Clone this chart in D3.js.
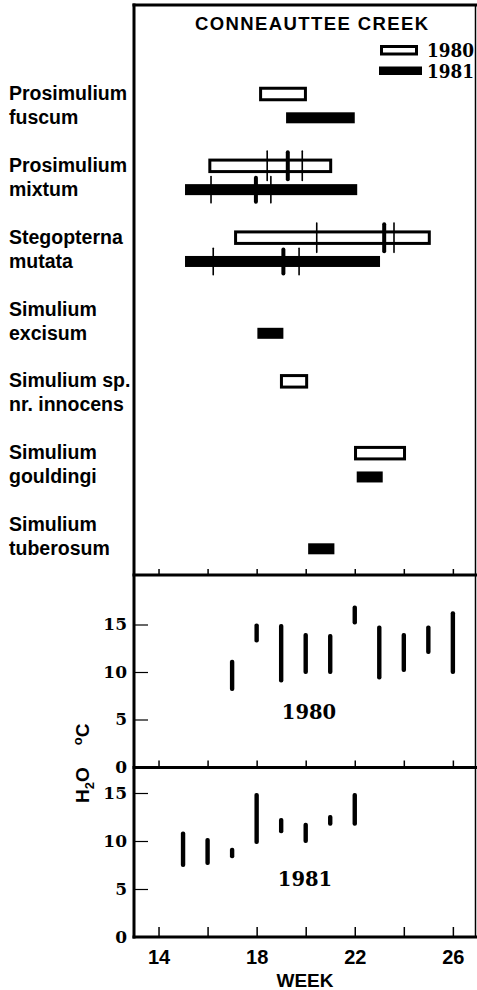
<!DOCTYPE html>
<html><head><meta charset="utf-8">
<script src="https://cdn.jsdelivr.net/npm/d3@7"></script>
<style>body{margin:0;background:#fff}svg{display:block}</style>
</head><body><svg id="c" width="477" height="990"></svg>
<script>
// ---------- data ----------
const speciesLine1 = ["Prosimulium","Prosimulium","Stegopterna","Simulium","Simulium sp.","Simulium","Simulium"];
const speciesLine2 = ["fuscum","mixtum","mutata","excisum","nr. innocens","gouldingi","tuberosum"];
// emergence periods (week start, week end); null = not collected
const start1980 = [18.1, 16.03, 17.08, null, 18.95, 21.97, null];
const end1980   = [20.05, 21.08, 25.1, null, 20.1, 24.09, null];
const start1981 = [19.2, 15.08, 15.08, 18.03, null, 22.08, 20.1];
const end1981   = [22.0, 22.1, 23.03, 19.09, null, 23.14, 21.17];
// vertical marks on bars: [species index, week]
const thinMarks1980  = [[1,18.43],[1,19.86],[2,20.45],[2,23.6]];
const thickMarks1980 = [[1,19.27],[2,23.2]];
const thinMarks1981  = [[1,16.14],[1,18.58],[2,16.23],[2,19.73]];
const thickMarks1981 = [[1,17.97],[2,19.09]];
// water temperature ranges
const weeks1980 = [17,18,19,20,21,22,23,24,25,26];
const low1980   = [8.0,13.1,8.9,9.8,9.8,15.0,9.2,10.0,11.9,9.8];
const high1980  = [11.3,15.1,15.05,14.1,14.0,17.0,14.9,14.1,14.9,16.4];
const weeks1981 = [15,16,17,18,19,20,21,22];
const low1981   = [7.3,7.5,8.2,9.7,10.8,9.8,11.6,11.6];
const high1981  = [11.0,10.3,9.3,15.0,12.4,11.9,12.7,15.0];
const weekTicks = [14,16,18,20,22,24,26];
const weekLabels = [14,18,22,26];
const tempTicks = [5,10,15];
const tempLabels = [0,5,10,15];

// ---------- layout ----------
const svg = d3.select("#c");
const L = 134, R = 475.5, T = 5, B1 = 575, B2 = 767.5, B3 = 937;
const x = d3.scaleLinear().domain([13,27]).range([134,477.4]);
const row = d3.scalePoint().domain(d3.range(speciesLine1.length)).range([94,525]);
const off81 = 23.8;
const y80 = d3.scaleLinear().domain([0,15]).range([767,624.5]);
const y81 = d3.scaleLinear().domain([0,15]).range([937,793]);

const sans = "'Liberation Sans', Arial, sans-serif";
const serif = "'DejaVu Serif', serif";

// title
svg.append("text").attr("x",195).attr("y",29.5)
  .attr("textLength",233).attr("lengthAdjust","spacing")
  .style("font-family",sans).style("font-weight","bold").style("font-size","18.5px")
  .text("CONNEAUTTEE CREEK");

// legend
svg.append("rect").attr("x",381.5).attr("y",46.5).attr("width",35).attr("height",7.5)
  .attr("fill","#fff").attr("stroke","#000").attr("stroke-width",3);
svg.append("rect").attr("x",379).attr("y",66.5).attr("width",43).attr("height",8.5).attr("fill","#000");
svg.append("text").attr("x",427).attr("y",57).attr("textLength",47).attr("lengthAdjust","spacingAndGlyphs")
  .style("font-family",serif).style("font-weight","bold").style("font-size","18px").text("1980");
svg.append("text").attr("x",427).attr("y",78).attr("textLength",47).attr("lengthAdjust","spacingAndGlyphs")
  .style("font-family",serif).style("font-weight","bold").style("font-size","18px").text("1981");

// species labels
const lab = svg.append("g").style("font-family",sans).style("font-weight","bold").style("font-size","19.5px");
speciesLine1.forEach((s,i)=>{
  lab.append("text").attr("x",9).attr("y",row(i)+6).text(s);
  lab.append("text").attr("x",9).attr("y",row(i)+30).text(speciesLine2[i]);
});

// bars 1980 (open)
const idx = d3.range(speciesLine1.length);
svg.append("g").selectAll("rect").data(idx.filter(i=>start1980[i]!==null)).join("rect")
  .attr("x",i=>x(start1980[i])+1.5).attr("width",i=>x(end1980[i])-x(start1980[i])-3)
  .attr("y",i=>row(i)-5.75).attr("height",11.5)
  .attr("fill","#fff").attr("stroke","#000").attr("stroke-width",3);
// bars 1981 (filled)
svg.append("g").selectAll("rect").data(idx.filter(i=>start1981[i]!==null)).join("rect")
  .attr("x",i=>x(start1981[i])).attr("width",i=>x(end1981[i])-x(start1981[i]))
  .attr("y",i=>row(i)+off81-5.5).attr("height",11)
  .attr("fill","#000");

// marks
function marks(data, dy, w, half){
  svg.append("g").selectAll("rect").data(data).join("rect")
    .attr("x",d=>x(d[1])-w/2).attr("width",w)
    .attr("y",d=>row(d[0])+dy-half).attr("height",2*half)
    .attr("rx",w/2).attr("fill","#000");
}
marks(thinMarks1980,0,1.6,15.5);
marks(thickMarks1980,0,4,15.5);
marks(thinMarks1981,off81,1.6,14);
marks(thickMarks1981,off81,4,14);

// temperature bars
function temps(weeks, lo, hi, y){
  svg.append("g").selectAll("rect").data(weeks.map((w,i)=>i)).join("rect")
    .attr("x",i=>x(weeks[i])-2.2).attr("width",4.4)
    .attr("y",i=>y(hi[i])).attr("height",i=>y(lo[i])-y(hi[i]))
    .attr("rx",2).attr("fill","#000");
}
temps(weeks1980,low1980,high1980,y80);
temps(weeks1981,low1981,high1981,y81);

svg.append("text").attr("x",309).attr("y",719).attr("text-anchor","middle")
  .style("font-family",serif).style("font-weight","bold").style("font-size","19.5px").text("1980");
svg.append("text").attr("x",305).attr("y",886).attr("text-anchor","middle")
  .style("font-family",serif).style("font-weight","bold").style("font-size","19.5px").text("1981");

// x tick marks (inward, pointing up) for each panel
function xticks(yb, len){
  const g = svg.append("g").attr("transform",`translate(0,${yb})`)
    .call(d3.axisTop(x).tickValues(weekTicks).tickSize(len).tickFormat(""));
  g.select(".domain").remove();
  g.selectAll("line").attr("stroke","#000").attr("stroke-width",1.5);
}
xticks(B1-1,5);
xticks(B2-1,6);
xticks(B3-1,9);

// x labels
const xl = svg.append("g").attr("transform",`translate(0,${B3})`)
  .call(d3.axisBottom(x).tickValues(weekLabels).tickSize(0).tickPadding(13).tickFormat(d3.format("d")));
xl.select(".domain").remove();
xl.selectAll("text").style("font-family",sans).style("font-weight","bold").style("font-size","20px").attr("fill","#000");
svg.append("text").attr("x",305).attr("y",987).attr("text-anchor","middle")
  .style("font-family",sans).style("font-weight","bold").style("font-size","19px").text("WEEK");

// y axes
function yaxis(y){
  const g = svg.append("g").attr("transform",`translate(${L},0)`)
    .call(d3.axisRight(y).tickValues(tempTicks).tickSize(14).tickFormat(""));
  g.select(".domain").remove();
  g.selectAll("line").attr("stroke","#000").attr("stroke-width",1.2);
  const gl = svg.append("g").attr("transform",`translate(${L},0)`)
    .call(d3.axisLeft(y).tickValues(tempLabels).tickSize(0).tickPadding(7).tickFormat(d3.format("d")));
  gl.select(".domain").remove();
  gl.selectAll("text").style("font-family",serif).style("font-weight","bold").style("font-size","17px").attr("fill","#000");
}
yaxis(y80);
yaxis(y81);

// y title
const yt = svg.append("text").attr("transform","translate(89,803) rotate(-90)")
  .style("font-family",sans).style("font-weight","bold").style("font-size","19px");
yt.append("tspan").text("H");
yt.append("tspan").attr("dy",5).style("font-size","13px").text("2");
yt.append("tspan").attr("dy",-5).text("O");
yt.append("tspan").attr("dx",22).attr("dy",-7).style("font-size","13px").text("o");
yt.append("tspan").attr("dy",7).text("C");

// frame lines
const frame = svg.append("g").attr("stroke","#000").attr("fill","none");
frame.append("line").attr("x1",L).attr("x2",L).attr("y1",T-1.5).attr("y2",B3+1.5).attr("stroke-width",3);
frame.append("line").attr("x1",L-1.5).attr("x2",477).attr("y1",T).attr("y2",T).attr("stroke-width",3);
frame.append("line").attr("x1",R).attr("x2",R).attr("y1",T).attr("y2",B3).attr("stroke-width",1.5);
[B1,B2,B3].forEach(b=>frame.append("line").attr("x1",L-1.5).attr("x2",477).attr("y1",b).attr("y2",b).attr("stroke-width",3));
</script></body></html>
